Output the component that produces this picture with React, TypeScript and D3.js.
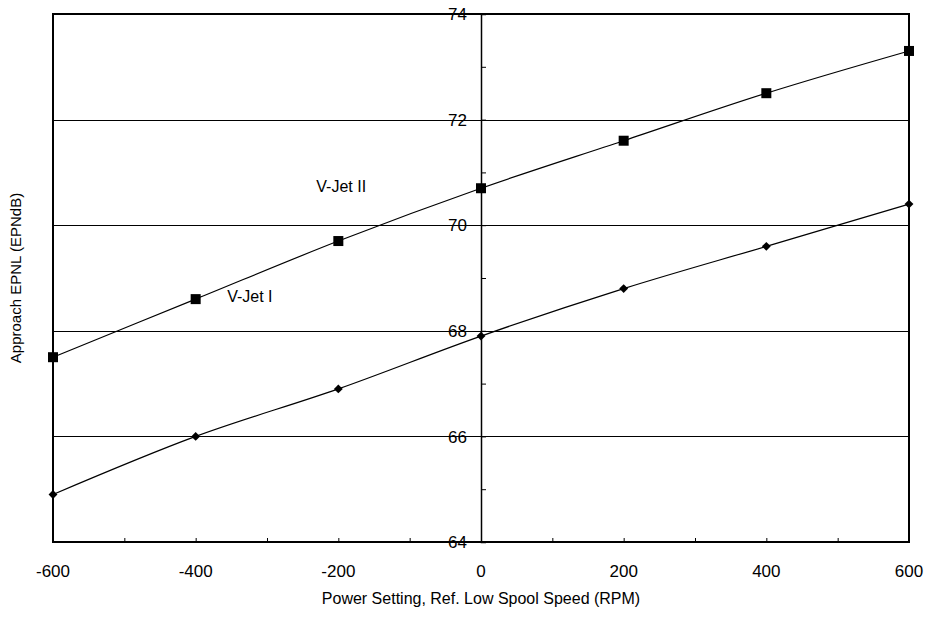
import { useEffect, useRef } from "react";
import * as d3 from "d3";

const rpm = [-600, -400, -200, 0, 200, 400, 600];
const vJet2 = [67.5, 68.6, 69.7, 70.7, 71.6, 72.5, 73.3];
const vJet1 = [64.9, 66.0, 66.9, 67.9, 68.8, 69.6, 70.4];

const xMajorTicks = [-600, -400, -200, 0, 200, 400, 600];
const yMajorTicks = [64, 66, 68, 70, 72, 74];
const gridValues = [66, 68, 70, 72];

const WIDTH = 928;
const HEIGHT = 618;
const FONT = "'Liberation Sans', Arial, sans-serif";

const App = () => {
  const svgRef = useRef<SVGSVGElement | null>(null);

  useEffect(() => {
    if (!svgRef.current) return;
    const margin = { top: 14, right: 19, bottom: 76, left: 53 };
    const innerWidth = WIDTH - margin.left - margin.right;
    const innerHeight = HEIGHT - margin.top - margin.bottom;

    const svg = d3.select(svgRef.current);
    svg.selectAll("*").remove();

    const x = d3.scaleLinear().domain([-600, 600]).range([0, innerWidth]);
    const y = d3.scaleLinear().domain([64, 74]).range([innerHeight, 0]);

    const g = svg
      .append("g")
      .attr("transform", `translate(${margin.left}, ${margin.top})`);

    // Horizontal grid lines
    g.selectAll("line.grid")
      .data(gridValues)
      .join("line")
      .attr("class", "grid")
      .attr("x1", 0)
      .attr("x2", innerWidth)
      .attr("y1", (d) => Math.round(y(d)) + 0.5)
      .attr("y2", (d) => Math.round(y(d)) + 0.5)
      .attr("stroke", "#000")
      .attr("stroke-width", 1);

    // y axis through x = 0, ticks pointing right
    g.append("g")
      .attr("transform", `translate(${x(0)}, 0)`)
      .call(
        d3
          .axisRight(y)
          .tickValues(d3.range(64, 74.5, 1))
          .tickSize(5)
          .tickFormat(() => "")
      )
      .call((axis) => axis.selectAll("line").attr("stroke", "#000"))
      .call((axis) =>
        axis.select(".domain").attr("stroke", "#000").attr("stroke-width", 1.5)
      );

    // y tick labels, left of the axis
    g.selectAll("text.ylab")
      .data(yMajorTicks)
      .join("text")
      .attr("class", "ylab")
      .attr("x", x(0) - 14)
      .attr("y", (d) => y(d))
      .attr("dy", "0.36em")
      .attr("text-anchor", "end")
      .attr("font-family", FONT)
      .attr("font-size", 17)
      .attr("fill", "#000")
      .text((d) => String(d));

    // x axis ticks, pointing up into the plot
    g.append("g")
      .attr("transform", `translate(0, ${innerHeight})`)
      .call(
        d3
          .axisTop(x)
          .tickValues(d3.range(-600, 601, 100))
          .tickSize(4)
          .tickFormat(() => "")
      )
      .call((axis) => axis.selectAll("line").attr("stroke", "#000"))
      .call((axis) => axis.select(".domain").remove());

    g.selectAll("text.xlab")
      .data(xMajorTicks)
      .join("text")
      .attr("class", "xlab")
      .attr("x", (d) => x(d))
      .attr("y", innerHeight + 35)
      .attr("text-anchor", "middle")
      .attr("font-family", FONT)
      .attr("font-size", 17)
      .attr("fill", "#000")
      .text((d) => String(d));

    // Frame
    g.append("rect")
      .attr("x", 0)
      .attr("y", 0)
      .attr("width", innerWidth)
      .attr("height", innerHeight)
      .attr("fill", "none")
      .attr("stroke", "#000")
      .attr("stroke-width", 2);

    const line = d3
      .line<number>()
      .x((_, i) => x(rpm[i]))
      .y((d) => y(d))
      .curve(d3.curveCatmullRom.alpha(0));

    [vJet2, vJet1].forEach((series) => {
      g.append("path")
        .attr("d", line(series))
        .attr("fill", "none")
        .attr("stroke", "#000")
        .attr("stroke-width", 1.2);
    });

    // Squares (V-Jet II)
    g.selectAll("rect.sq")
      .data(vJet2)
      .join("rect")
      .attr("class", "sq")
      .attr("x", (_, i) => x(rpm[i]) - 5)
      .attr("y", (d) => y(d) - 5)
      .attr("width", 10)
      .attr("height", 10)
      .attr("fill", "#000");

    // Diamonds (V-Jet I)
    const diamond = d3.symbol().type(d3.symbolDiamond2).size(50);
    g.selectAll("path.dm")
      .data(vJet1)
      .join("path")
      .attr("class", "dm")
      .attr("transform", (d, i) => `translate(${x(rpm[i])}, ${y(d)})`)
      .attr("d", diamond()!)
      .attr("fill", "#000");

    // Series labels
    g.append("text")
      .attr("x", x(-196))
      .attr("y", y(70.74))
      .attr("dy", "0.36em")
      .attr("text-anchor", "middle")
      .attr("font-family", FONT)
      .attr("font-size", 16)
      .text("V-Jet II");

    g.append("text")
      .attr("x", x(-324))
      .attr("y", y(68.66))
      .attr("dy", "0.36em")
      .attr("text-anchor", "middle")
      .attr("font-family", FONT)
      .attr("font-size", 16)
      .text("V-Jet I");

    // Axis titles
    svg
      .append("text")
      .attr("x", margin.left + innerWidth / 2)
      .attr("y", HEIGHT - 14)
      .attr("text-anchor", "middle")
      .attr("font-family", FONT)
      .attr("font-size", 16)
      .text("Power Setting, Ref. Low Spool Speed (RPM)");

    svg
      .append("text")
      .attr("transform", `translate(21, ${margin.top + innerHeight / 2}) rotate(-90)`)
      .attr("text-anchor", "middle")
      .attr("font-family", FONT)
      .attr("font-size", 15)
      .text("Approach EPNL (EPNdB)");
  }, []);

  return (
    <svg
      ref={svgRef}
      width={WIDTH}
      height={HEIGHT}
      style={{ position: "absolute", left: 0, top: 0, background: "#fff" }}
    />
  );
};

export default App;
